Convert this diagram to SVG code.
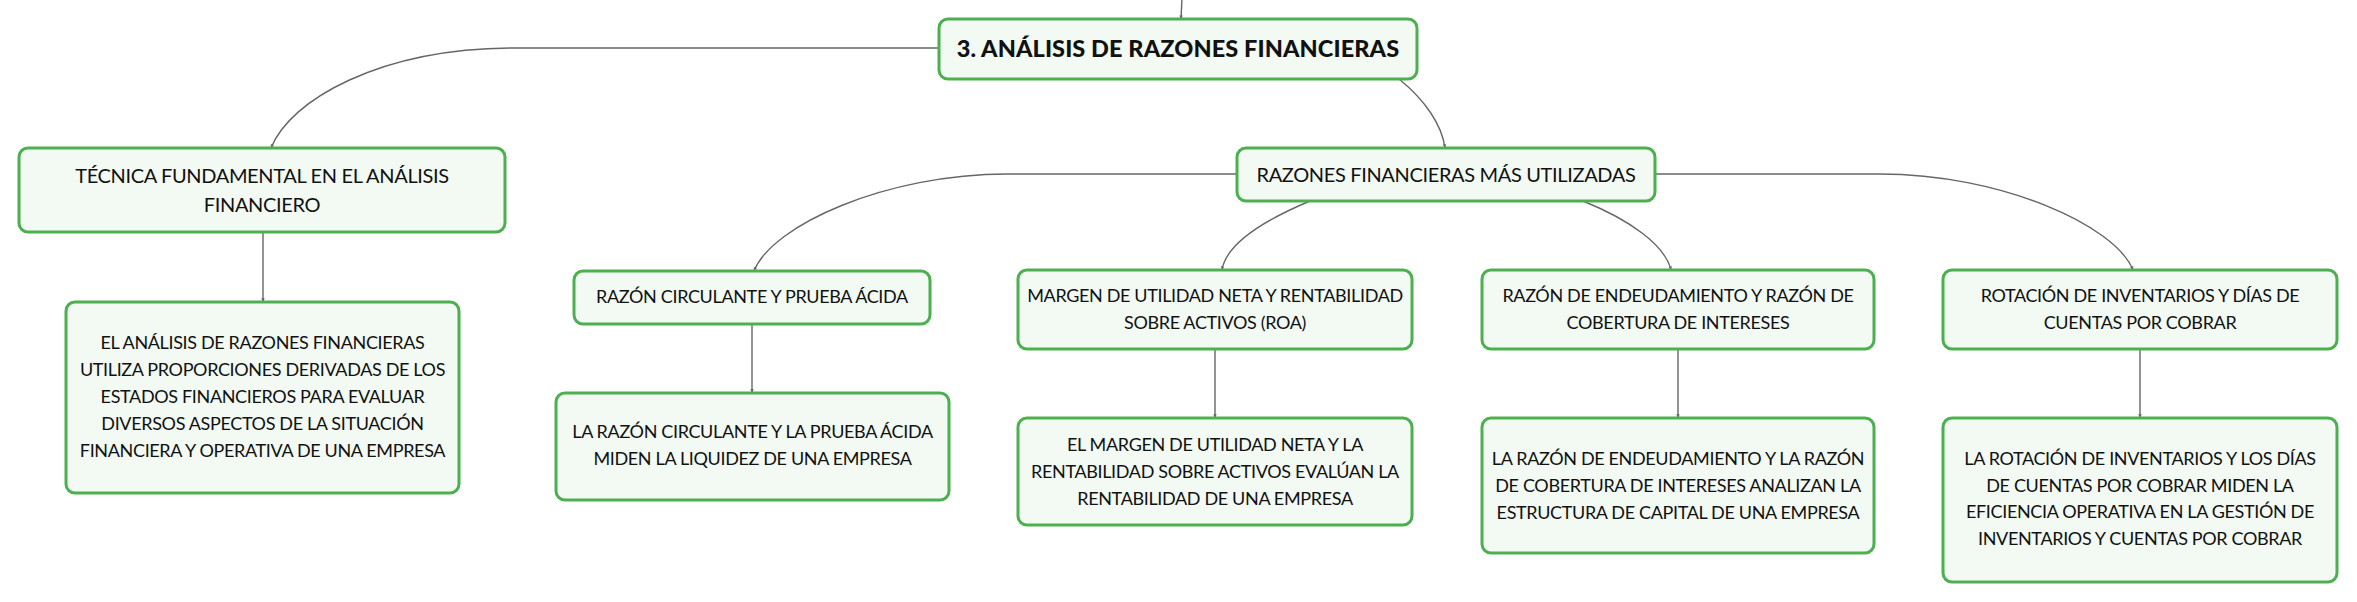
<svg xmlns="http://www.w3.org/2000/svg" width="2357" height="602" viewBox="0 0 2357 602">
<defs>
<marker id="arr" viewBox="0 0 6 6" refX="5.5" refY="3" markerWidth="4" markerHeight="4" markerUnits="userSpaceOnUse" orient="auto">
<path d="M0,0.5 L6,3 L0,5.5 Z" fill="#666"/>
</marker>
</defs>
<style>
.box{fill:#f2faf3;stroke:#4caf50;stroke-width:3}
.t{font-family:Lato,"Noto Sans",sans-serif;fill:#111;text-anchor:middle;letter-spacing:-0.35px}
.root{font-size:23.5px;font-weight:900;letter-spacing:0.1px}
.l1{font-size:20px}
.l2{font-size:18px}
.c{fill:none;stroke:#666;stroke-width:1.4;marker-end:url(#arr)}
</style>
<rect width="2357" height="602" fill="#ffffff"/>
<g id="connectors">
<path class="c" d="M1182 -2 L1181 19"/>
<path class="c" d="M939 48 H515 C380 48 290 100 271 148"/>
<path class="c" d="M1399 79 C1425 100 1442 125 1445 148"/>
<path class="c" d="M263 232 V302"/>
<path class="c" d="M1237 174 H1007 C887 174 772 225 754 271"/>
<path class="c" d="M1310 201 C1260 222 1226 245 1222 270"/>
<path class="c" d="M1583 201 C1630 220 1665 245 1671 270"/>
<path class="c" d="M1655 174 H1880 C2000 174 2115 225 2133 270"/>
<path class="c" d="M752 324 V393"/>
<path class="c" d="M1215 349 V418"/>
<path class="c" d="M1678 349 V418"/>
<path class="c" d="M2140 349 V418"/>
</g>
<g id="root">
<rect class="box" x="939" y="19" width="478" height="60" rx="9"/>
<text class="t root" x="1178" y="57">3. ANÁLISIS DE RAZONES FINANCIERAS</text>
</g>
<g id="tecnica">
<rect class="box" x="19" y="148" width="486" height="84" rx="9"/>
<text class="t l1" x="262" y="183">TÉCNICA FUNDAMENTAL EN EL ANÁLISIS</text>
<text class="t l1" x="262" y="212">FINANCIERO</text>
</g>
<g id="tecnica-desc">
<rect class="box" x="66" y="302" width="393" height="191" rx="9"/>
<text class="t l2" x="262.5" y="349">EL ANÁLISIS DE RAZONES FINANCIERAS</text>
<text class="t l2" x="262.5" y="376">UTILIZA PROPORCIONES DERIVADAS DE LOS</text>
<text class="t l2" x="262.5" y="403">ESTADOS FINANCIEROS PARA EVALUAR</text>
<text class="t l2" x="262.5" y="430">DIVERSOS ASPECTOS DE LA SITUACIÓN</text>
<text class="t l2" x="262.5" y="457">FINANCIERA Y OPERATIVA DE UNA EMPRESA</text>
</g>
<g id="razones">
<rect class="box" x="1237" y="148" width="418" height="53" rx="9"/>
<text class="t l1" x="1446" y="182">RAZONES FINANCIERAS MÁS UTILIZADAS</text>
</g>
<g id="circulante">
<rect class="box" x="574" y="271" width="356" height="53" rx="9"/>
<text class="t l2" x="752" y="303">RAZÓN CIRCULANTE Y PRUEBA ÁCIDA</text>
</g>
<g id="circulante-desc">
<rect class="box" x="556" y="393" width="393" height="107" rx="9"/>
<text class="t l2" x="752.5" y="438">LA RAZÓN CIRCULANTE Y LA PRUEBA ÁCIDA</text>
<text class="t l2" x="752.5" y="465">MIDEN LA LIQUIDEZ DE UNA EMPRESA</text>
</g>
<g id="margen">
<rect class="box" x="1018" y="270" width="394" height="79" rx="9"/>
<text class="t l2" x="1215" y="302">MARGEN DE UTILIDAD NETA Y RENTABILIDAD</text>
<text class="t l2" x="1215" y="329">SOBRE ACTIVOS (ROA)</text>
</g>
<g id="margen-desc">
<rect class="box" x="1018" y="418" width="394" height="107" rx="9"/>
<text class="t l2" x="1215" y="451">EL MARGEN DE UTILIDAD NETA Y LA</text>
<text class="t l2" x="1215" y="478">RENTABILIDAD SOBRE ACTIVOS EVALÚAN LA</text>
<text class="t l2" x="1215" y="505">RENTABILIDAD DE UNA EMPRESA</text>
</g>
<g id="endeudamiento">
<rect class="box" x="1482" y="270" width="392" height="79" rx="9"/>
<text class="t l2" x="1678" y="302">RAZÓN DE ENDEUDAMIENTO Y RAZÓN DE</text>
<text class="t l2" x="1678" y="329">COBERTURA DE INTERESES</text>
</g>
<g id="endeudamiento-desc">
<rect class="box" x="1482" y="418" width="392" height="135" rx="9"/>
<text class="t l2" x="1678" y="465">LA RAZÓN DE ENDEUDAMIENTO Y LA RAZÓN</text>
<text class="t l2" x="1678" y="492">DE COBERTURA DE INTERESES ANALIZAN LA</text>
<text class="t l2" x="1678" y="519">ESTRUCTURA DE CAPITAL DE UNA EMPRESA</text>
</g>
<g id="rotacion">
<rect class="box" x="1943" y="270" width="394" height="79" rx="9"/>
<text class="t l2" x="2140" y="302">ROTACIÓN DE INVENTARIOS Y DÍAS DE</text>
<text class="t l2" x="2140" y="329">CUENTAS POR COBRAR</text>
</g>
<g id="rotacion-desc">
<rect class="box" x="1943" y="418" width="394" height="164" rx="9"/>
<text class="t l2" x="2140" y="465">LA ROTACIÓN DE INVENTARIOS Y LOS DÍAS</text>
<text class="t l2" x="2140" y="492">DE CUENTAS POR COBRAR MIDEN LA</text>
<text class="t l2" x="2140" y="518">EFICIENCIA OPERATIVA EN LA GESTIÓN DE</text>
<text class="t l2" x="2140" y="545">INVENTARIOS Y CUENTAS POR COBRAR</text>
</g>
</svg>
